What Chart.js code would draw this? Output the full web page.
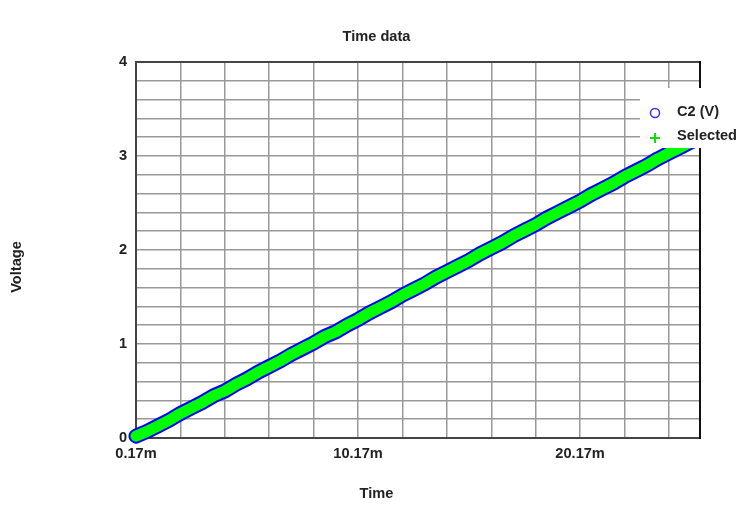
<!DOCTYPE html>
<html>
<head>
<meta charset="utf-8">
<title>Time data</title>
<script src="https://cdn.jsdelivr.net/npm/chart.js@4.4.1/dist/chart.umd.min.js"></script>
<style>
    body { margin: 0; background: #fff; }
    #wrap { width: 753px; height: 528px; }
</style>
</head>
<body>
<div id="wrap"><canvas id="timeChart" width="753" height="528"></canvas></div>
<script>
// --- DATA (time in ms, voltage in V) ---
const timeMs = [
    0.17, 0.67, 1.17, 1.67, 2.17, 2.67, 3.17, 3.67, 4.17, 4.67,
    5.17, 5.67, 6.17, 6.67, 7.17, 7.67, 8.17, 8.67, 9.17, 9.67,
    10.17, 10.67, 11.17, 11.67, 12.17, 12.67, 13.17, 13.67, 14.17, 14.67,
    15.17, 15.67, 16.17, 16.67, 17.17, 17.67, 18.17, 18.67, 19.17, 19.67,
    20.17, 20.67, 21.17, 21.67, 22.17, 22.67, 23.17, 23.67, 24.17, 24.67,
    25.17, 25.57
];
const voltage = [
    0.02, 0.07, 0.13, 0.19, 0.26, 0.32, 0.38, 0.45, 0.50, 0.57,
    0.63, 0.70, 0.76, 0.82, 0.89, 0.95, 1.01, 1.08, 1.13, 1.20,
    1.26, 1.33, 1.39, 1.45, 1.52, 1.58, 1.64, 1.71, 1.77, 1.83,
    1.89, 1.96, 2.02, 2.08, 2.15, 2.21, 2.27, 2.34, 2.40, 2.46,
    2.52, 2.59, 2.65, 2.71, 2.78, 2.84, 2.90, 2.97, 3.03, 3.09,
    3.15, 3.20
];
const seriesNames = ['C2 (V)', 'Selected'];

// tick labels
const xGridTicks = [0.17, 2.17, 4.17, 6.17, 8.17, 10.17, 12.17, 14.17, 16.17, 18.17, 20.17, 22.17, 24.17];
const xLabelTicks = [0.17, 10.17, 20.17];
const yLabelTicks = [0, 1, 2, 3, 4];

const FONT = "'Liberation Sans', Arial, sans-serif";
const TEXT_FONT = 'bold 14.6px ' + FONT;
const makePoints = () => timeMs.map((t, i) => ({ x: t, y: voltage[i] }));

// --- FRAME, TITLES AND LEGEND ---
const framePlugin = {
    id: 'frame',
    beforeDatasetsDraw(chart) {
        const { ctx, chartArea: a } = chart;
        ctx.save();
        ctx.lineWidth = 2;
        ctx.strokeStyle = '#444';
        ctx.beginPath();
        ctx.moveTo(a.right, a.top);
        ctx.lineTo(a.left, a.top);
        ctx.lineTo(a.left, a.bottom);
        ctx.lineTo(a.right, a.bottom);
        ctx.stroke();
        ctx.strokeStyle = '#111';
        ctx.beginPath();
        ctx.moveTo(a.right, a.top - 1);
        ctx.lineTo(a.right, a.bottom + 1);
        ctx.stroke();
        ctx.restore();
    },
    afterDraw(chart) {
        const { ctx } = chart;
        const w = chart.width;
        ctx.save();
        ctx.fillStyle = '#222';
        ctx.font = TEXT_FONT;
        ctx.textAlign = 'center';
        ctx.textBaseline = 'middle';
        ctx.fillText('Time data', w / 2, 37);
        ctx.fillText('Time', w / 2, 494);
        ctx.translate(17, 267);
        ctx.rotate(-Math.PI / 2);
        ctx.fillText('Voltage', 0, 0);
        ctx.restore();

        // legend box
        ctx.save();
        ctx.fillStyle = '#fff';
        ctx.fillRect(640, 88, 106, 60);
        ctx.font = TEXT_FONT;
        ctx.fillStyle = '#222';
        ctx.textAlign = 'left';
        ctx.textBaseline = 'middle';
        ctx.fillText(chart.data.datasets[0].label, 677, 112);
        ctx.fillText(chart.data.datasets[1].label, 677, 136);
        ctx.strokeStyle = '#3333ff';
        ctx.lineWidth = 1.5;
        ctx.beginPath();
        ctx.arc(655, 113, 4.5, 0, Math.PI * 2);
        ctx.stroke();
        ctx.strokeStyle = '#11dd11';
        ctx.lineWidth = 2;
        ctx.beginPath();
        ctx.moveTo(650, 138); ctx.lineTo(660, 138);
        ctx.moveTo(655, 133); ctx.lineTo(655, 143);
        ctx.stroke();
        ctx.restore();
    }
};

const ctxTime = document.getElementById('timeChart').getContext('2d');
new Chart(ctxTime, {
    type: 'scatter',
    data: {
        datasets: [{
            label: seriesNames[0],
            data: makePoints(),
            order: 2,
            showLine: true,
            borderColor: '#0000ff',
            backgroundColor: '#0000ff',
            borderWidth: 15,
            borderCapStyle: 'round',
            borderJoinStyle: 'round',
            pointRadius: 0,
            clip: { left: 8, top: 0, right: 0, bottom: 8 }
        }, {
            label: seriesNames[1],
            data: makePoints(),
            order: 1,
            showLine: true,
            borderColor: '#00ff00',
            backgroundColor: '#00ff00',
            borderWidth: 11,
            borderCapStyle: 'round',
            borderJoinStyle: 'round',
            pointRadius: 0,
            clip: { left: 8, top: 0, right: 0, bottom: 8 }
        }]
    },
    options: {
        responsive: false,
        animation: false,
        layout: { padding: { left: 0, right: 53, top: 62, bottom: 0 } },
        plugins: {
            legend: { display: false },
            title: { display: false },
            tooltip: { enabled: false }
        },
        scales: {
            x: {
                type: 'linear',
                min: 0.17,
                max: 25.57,
                afterBuildTicks: s => { s.ticks = xGridTicks.map(v => ({ value: v })); },
                afterFit: s => { s.height = 90; },
                grid: { color: '#999', lineWidth: 1.5, drawTicks: false },
                border: { display: false },
                ticks: {
                    padding: 7,
                    maxRotation: 0,
                    autoSkip: false,
                    color: '#222',
                    font: { family: FONT, size: 14.6, weight: 'bold' },
                    callback: v => xLabelTicks.some(t => Math.abs(t - v) < 1e-6) ? v.toFixed(2) + 'm' : ''
                }
            },
            y: {
                min: 0,
                max: 4,
                afterFit: s => { s.width = 136; },
                grid: { color: '#999', lineWidth: 1.5, drawTicks: false },
                border: { display: false },
                ticks: {
                    stepSize: 0.2,
                    padding: 9,
                    autoSkip: false,
                    color: '#222',
                    font: { family: FONT, size: 14.6, weight: 'bold' },
                    callback: v => {
                        const r = Math.round(v * 10) / 10;
                        return yLabelTicks.includes(r) ? String(r) : '';
                    }
                }
            }
        }
    },
    plugins: [framePlugin]
});
</script>
</body>
</html>
